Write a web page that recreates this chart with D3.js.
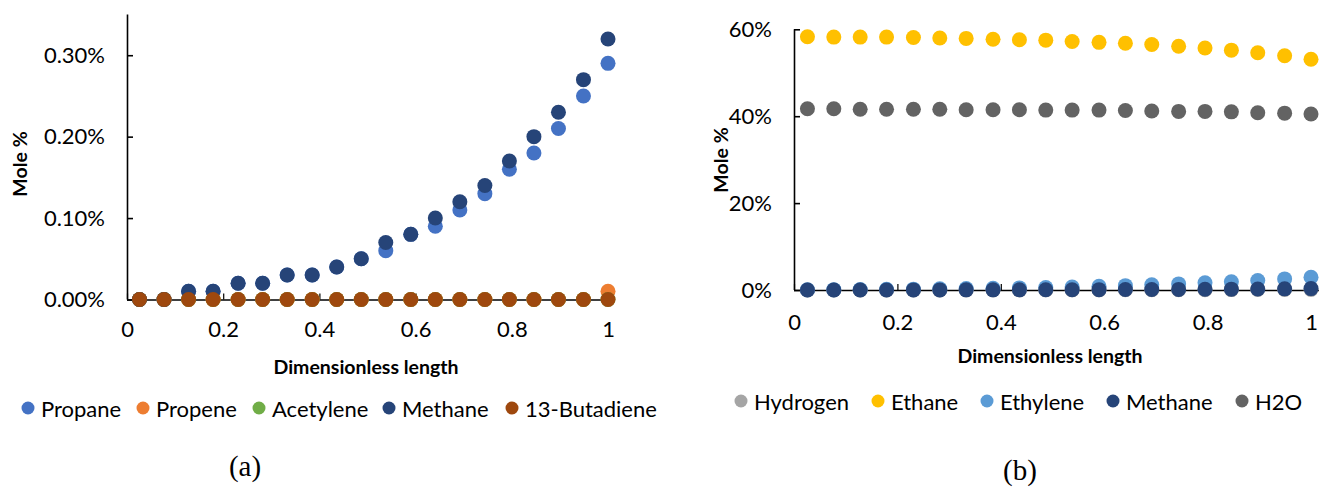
<!DOCTYPE html>
<html>
<head>
<meta charset="utf-8">
<script src="https://cdn.jsdelivr.net/npm/d3@7"></script>
<style>
  html, body { margin: 0; padding: 0; background: #fff; }
  svg { display: block; }
  text { font-family: Lato, "Open Sans", sans-serif; fill: #000; }
</style>
</head>
<body>
<svg id="fig" width="1319" height="490"></svg>
<script>
// Dimensionless positions along the reactor (shared by both panels)
const positions = [0.026, 0.077, 0.128, 0.179, 0.231, 0.282, 0.333, 0.385, 0.436, 0.487,
                   0.538, 0.590, 0.641, 0.692, 0.744, 0.795, 0.846, 0.897, 0.949, 1.000];

// Panel (a): minor species, mole %
const propane     = [0, 0, 0.01, 0.01, 0.02, 0.02, 0.03, 0.03, 0.04, 0.05,
                     0.06, 0.08, 0.09, 0.11, 0.13, 0.16, 0.18, 0.21, 0.25, 0.29];
const propene     = [0, 0, 0, 0, 0, 0, 0, 0, 0, 0,
                     0, 0, 0, 0, 0, 0, 0, 0, 0, 0.01];
const acetylene   = [0, 0, 0, 0, 0, 0, 0, 0, 0, 0,
                     0, 0, 0, 0, 0, 0, 0, 0, 0, 0];
const methaneA    = [0, 0, 0.01, 0.01, 0.02, 0.02, 0.03, 0.03, 0.04, 0.05,
                     0.07, 0.08, 0.10, 0.12, 0.14, 0.17, 0.20, 0.23, 0.27, 0.32];
const butadiene   = [0, 0, 0, 0, 0, 0, 0, 0, 0, 0,
                     0, 0, 0, 0, 0, 0, 0, 0, 0, 0];

// Panel (b): major species, mole %
const hydrogen    = [0, 0, 0, 0, 0.01, 0.01, 0.01, 0.02, 0.02, 0.03,
                     0.03, 0.04, 0.05, 0.06, 0.07, 0.08, 0.09, 0.11, 0.12, 0.14];
const ethane      = [58.3, 58.2, 58.2, 58.2, 58.1, 58.0, 57.9, 57.7, 57.6, 57.5,
                     57.2, 57.0, 56.8, 56.5, 56.1, 55.7, 55.2, 54.6, 53.9, 53.1];
const ethylene    = [0.05, 0.08, 0.12, 0.16, 0.2, 0.26, 0.32, 0.4, 0.48, 0.58,
                     0.7, 0.85, 1.0, 1.2, 1.4, 1.65, 1.9, 2.2, 2.55, 2.95];
const methaneB    = [0, 0, 0.01, 0.01, 0.02, 0.02, 0.03, 0.03, 0.04, 0.05,
                     0.07, 0.08, 0.10, 0.12, 0.14, 0.17, 0.20, 0.23, 0.27, 0.32];
const water       = [41.7, 41.7, 41.6, 41.6, 41.6, 41.6, 41.5, 41.5, 41.5, 41.4,
                     41.4, 41.4, 41.3, 41.2, 41.1, 41.1, 41.0, 40.8, 40.7, 40.5];

const xTicks      = [0, 0.2, 0.4, 0.6, 0.8, 1];
const yTicksA     = [0, 0.1, 0.2, 0.3];
const yTicksB     = [0, 20, 40, 60];

const seriesA = [
  { name: "Propane",     values: propane,   color: "#4472C4" },
  { name: "Propene",     values: propene,   color: "#ED7D31" },
  { name: "Acetylene",   values: acetylene, color: "#70AD47" },
  { name: "Methane",     values: methaneA,  color: "#264478" },
  { name: "13-Butadiene",values: butadiene, color: "#9E480E" }
];
const seriesB = [
  { name: "Hydrogen", values: hydrogen, color: "#A5A5A5" },
  { name: "Ethane",   values: ethane,   color: "#FFC000" },
  { name: "Ethylene", values: ethylene, color: "#5B9BD5" },
  { name: "Methane",  values: methaneB, color: "#264478" },
  { name: "H2O",      values: water,    color: "#636363" }
];

const svg = d3.select("#fig");

function panel(cfg) {
  const g = svg.append("g");
  const x = d3.scaleLinear().domain([0, 1]).range([cfg.x0, cfg.x1]);
  const y = d3.scaleLinear().domain([0, cfg.yMax]).range([cfg.y0, cfg.yTop]);

  // y axis: ticks point into the plot
  const yAxis = d3.axisLeft(y).tickValues(cfg.yTicks).tickSize(-6).tickSizeOuter(0)
    .tickPadding(22).tickFormat(cfg.yFormat);
  const ya = g.append("g").attr("transform", `translate(${cfg.x0},0)`).call(yAxis);
  ya.select(".domain").attr("stroke", "#000").attr("stroke-width", 1.6)
    .attr("d", `M0.5,${cfg.yTop}V${cfg.y0}`);
  ya.selectAll(".tick line").attr("stroke", "#000").attr("stroke-width", 1.6);
  ya.selectAll(".tick text").attr("font-size", 22).attr("font-family", "Lato");

  // x axis at zero
  const xAxis = d3.axisBottom(x).tickValues(xTicks).tickSize(-6).tickSizeOuter(0)
    .tickPadding(cfg.xPad).tickFormat(d3.format("~g"));
  const xa = g.append("g").attr("transform", `translate(0,${y(0)})`).call(xAxis);
  xa.select(".domain").attr("stroke", "#000").attr("stroke-width", 1.6)
    .attr("d", `M${cfg.x0},0.5H${cfg.xEnd}`);
  xa.selectAll(".tick line").attr("stroke", "#000").attr("stroke-width", 1.2);
  xa.selectAll(".tick text").attr("font-size", 22).attr("font-family", "Lato");

  // markers, drawn in series order so later series sit on top
  cfg.series.forEach(s => {
    g.append("g").selectAll("circle").data(s.values).join("circle")
      .attr("cx", (d, i) => x(positions[i]))
      .attr("cy", d => y(d))
      .attr("r", 7.5)
      .attr("fill", s.color);
  });

  // axis titles
  g.append("text")
    .attr("transform", `translate(${cfg.yTitleX},${cfg.yTitleY}) rotate(-90)`)
    .attr("text-anchor", "middle").attr("dominant-baseline", "central")
    .attr("font-size", 19.5).attr("font-weight", 700).text("Mole %");
  g.append("text")
    .attr("x", cfg.xTitleX).attr("y", cfg.xTitleY)
    .attr("text-anchor", "middle").attr("dominant-baseline", "central")
    .attr("font-size", 19.5).attr("font-weight", 700).text("Dimensionless length");

  // legend
  const lg = g.append("g");
  cfg.series.forEach((s, i) => {
    const lx = cfg.legendX[i];
    lg.append("circle").attr("cx", lx).attr("cy", cfg.legendY).attr("r", 6.5).attr("fill", s.color);
    lg.append("text").attr("x", lx + 13).attr("y", cfg.legendY)
      .attr("dominant-baseline", "central").attr("font-size", 22).text(s.name);
  });

  // panel letter
  g.append("text").attr("x", cfg.tagX).attr("y", cfg.tagY)
    .attr("text-anchor", "middle").attr("dominant-baseline", "central")
    .style("font-family", "'Liberation Serif', serif").attr("font-size", 29).text(cfg.tag);
}

panel({
  series: seriesA, x0: 127, x1: 608, xEnd: 613, y0: 299.5, yTop: 14.5, yMax: 0.35,
  yTicks: yTicksA, yFormat: d => d3.format(".2f")(d) + "%", xPad: 22,
  yTitleX: 19, yTitleY: 164, xTitleX: 366, xTitleY: 366,
  legendX: [28, 143, 259, 389, 512], legendY: 408,
  tag: "(a)", tagX: 245, tagY: 466
});

panel({
  series: seriesB, x0: 794, x1: 1311, xEnd: 1319, y0: 290, yTop: 29.3, yMax: 60,
  yTicks: yTicksB, yFormat: d => d + "%", xPad: 24,
  yTitleX: 720, yTitleY: 160, xTitleX: 1050, xTitleY: 355,
  legendX: [741, 878, 987, 1113, 1242], legendY: 401,
  tag: "(b)", tagX: 1020, tagY: 470
});
</script>
</body>
</html>
